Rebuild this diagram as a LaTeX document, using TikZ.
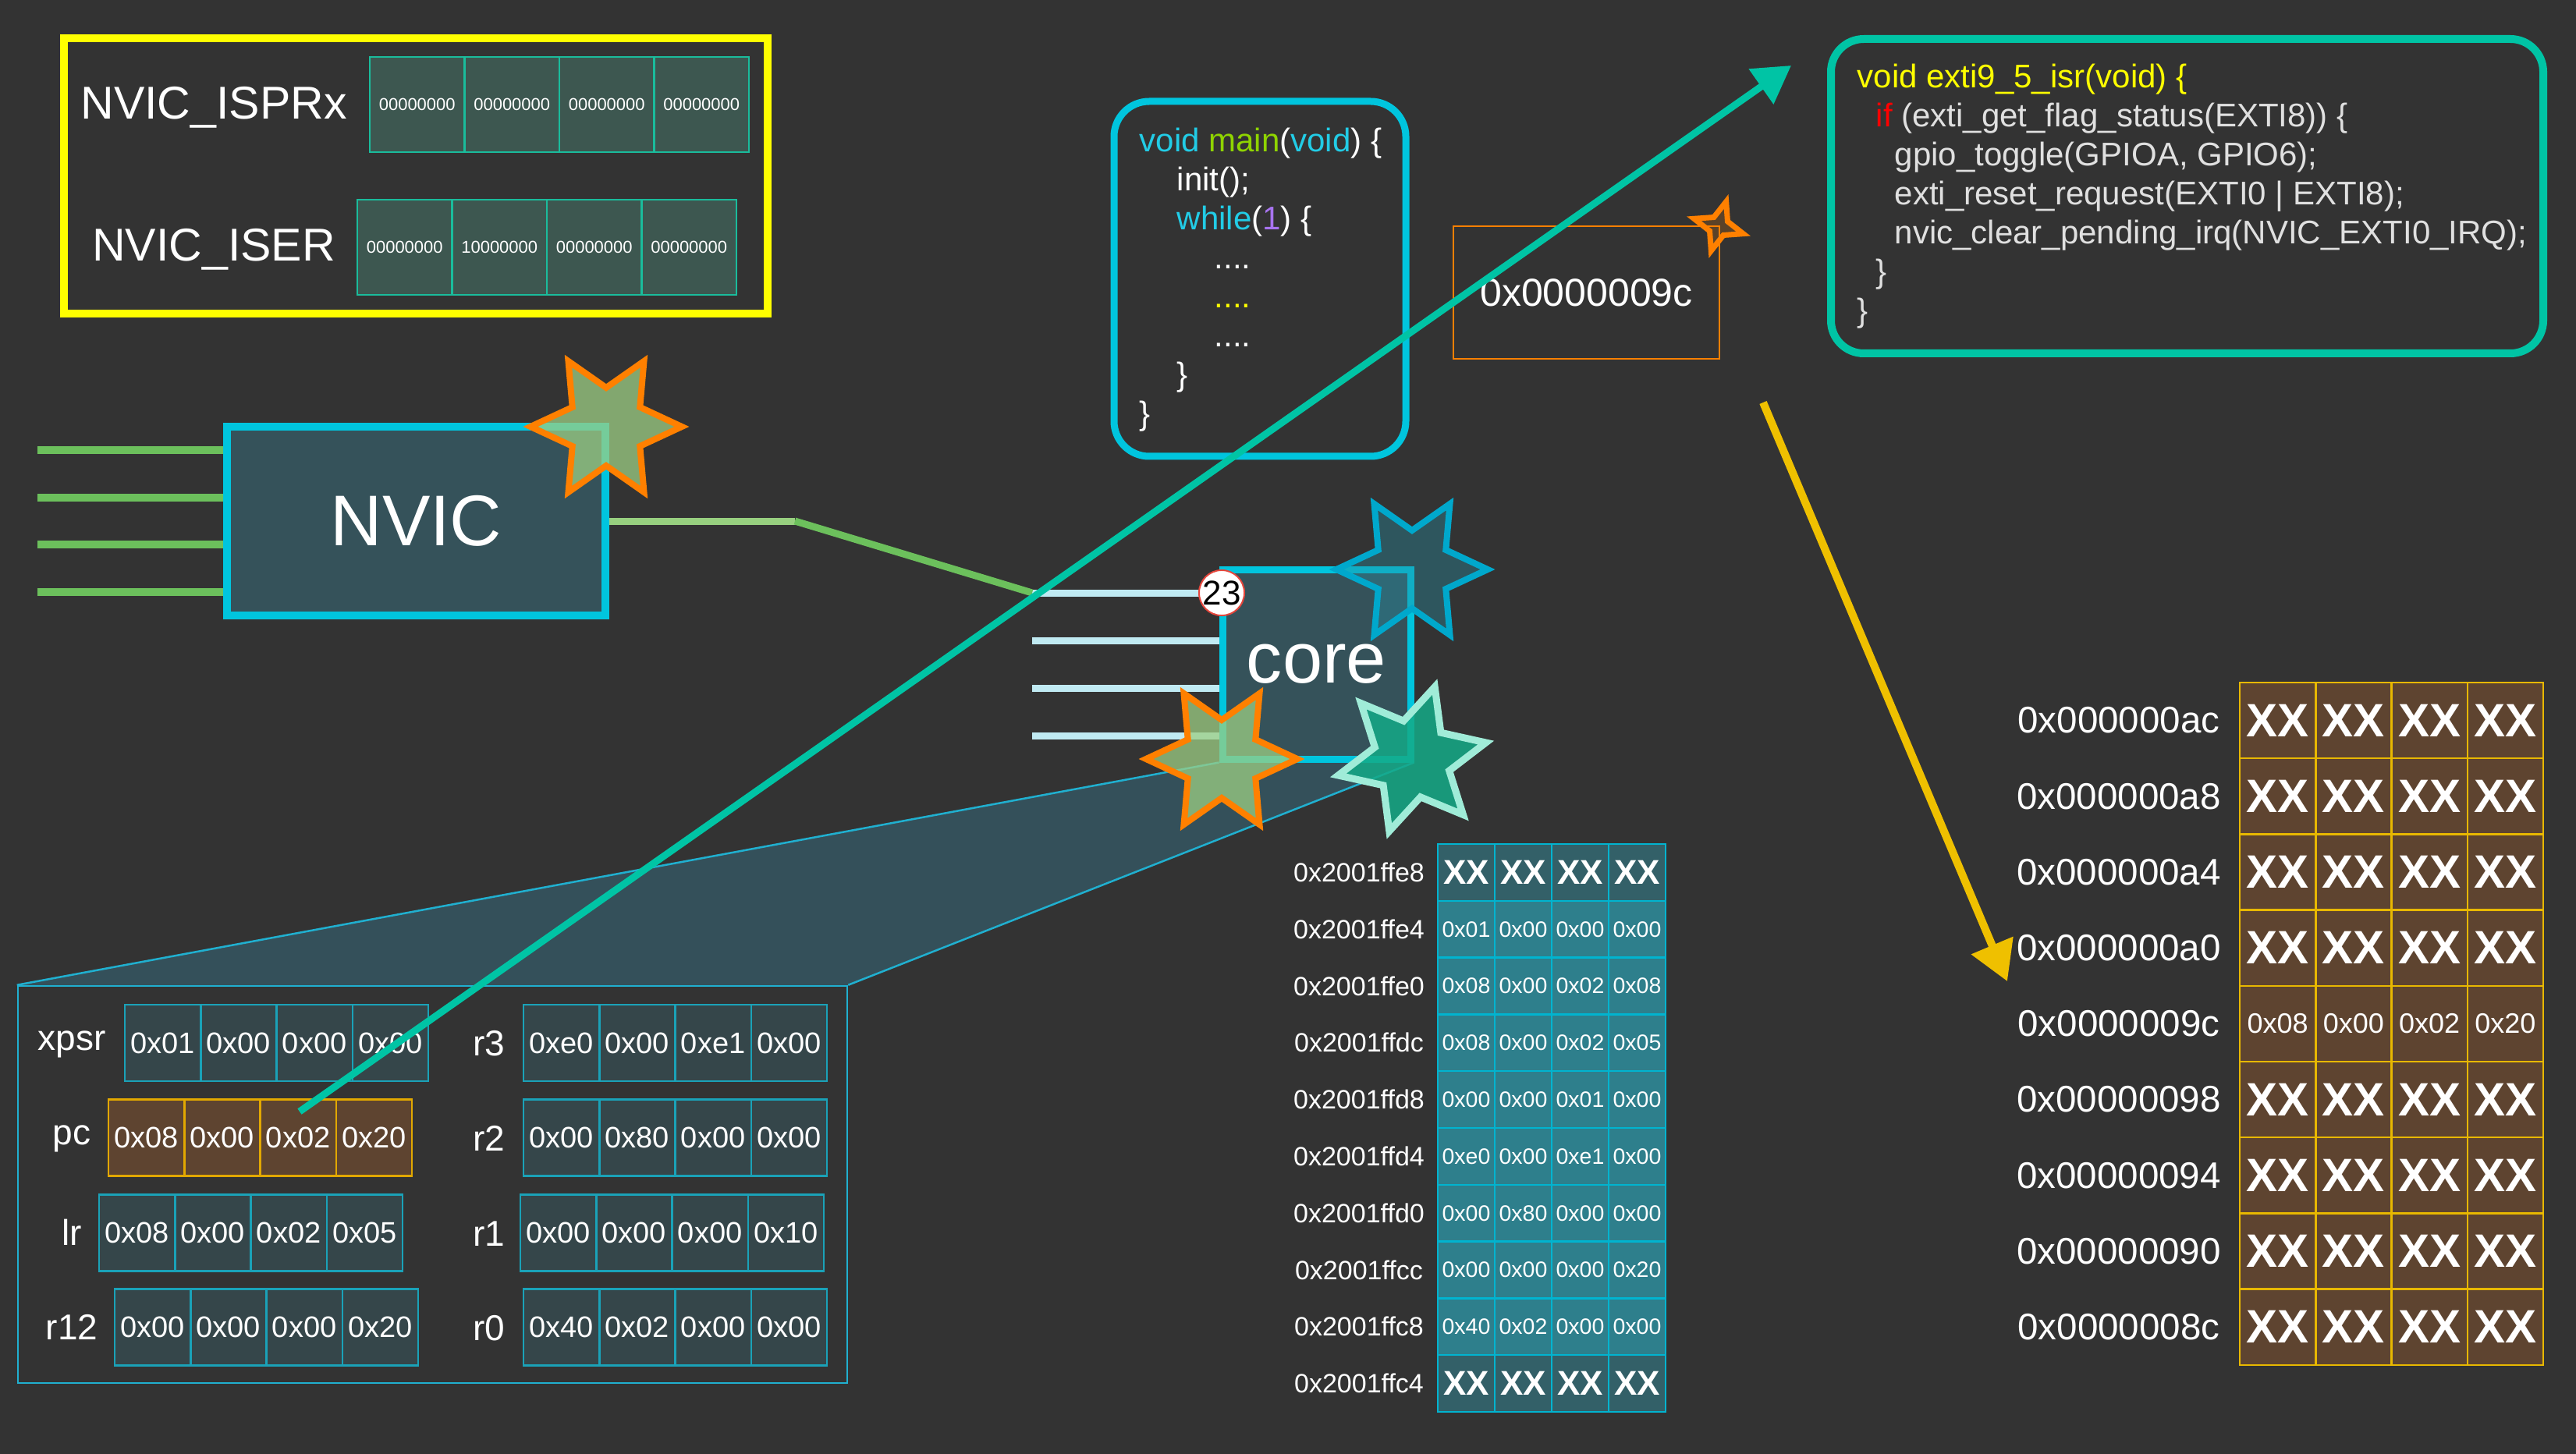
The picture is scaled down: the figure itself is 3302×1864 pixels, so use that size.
\documentclass[tikz,border=0pt]{standalone}
\usepackage{fontspec}
\setmainfont{Liberation Sans}
\usetikzlibrary{arrows.meta}
\newlength\pxu
\setlength\pxu{0.01cm}
\newcommand\fsz[1]{\fontsize{\fpeval{#1*0.28453}pt}{\fpeval{#1*0.34}pt}\selectfont}
\definecolor{bg}{HTML}{333333}
\definecolor{ylw}{HTML}{FFFF00}
\definecolor{isprfill}{HTML}{3D5750}
\definecolor{isprline}{HTML}{1ABC9C}
\definecolor{boxfill}{HTML}{35525A}
\definecolor{cyanline}{HTML}{00C5DE}
\definecolor{grn}{HTML}{6CC05C}
\definecolor{lgrn}{HTML}{98D080}
\definecolor{lblue}{HTML}{C0EAF2}
\definecolor{orng}{HTML}{FF8000}
\definecolor{tealarrow}{HTML}{00C4A5}
\definecolor{goldarrow}{HTML}{EFC000}
\definecolor{regfill}{HTML}{35464A}
\definecolor{regline}{HTML}{1AA2B8}
\definecolor{pcfill}{HTML}{5E4430}
\definecolor{pcline}{HTML}{E2A800}
\definecolor{stkfill}{HTML}{2E7F8C}
\definecolor{stkxx}{HTML}{336068}
\definecolor{stkline}{HTML}{00B4D0}
\definecolor{memline}{HTML}{E8B800}
\definecolor{codecyan}{HTML}{22CCE6}
\definecolor{codegreen}{HTML}{8FD400}
\definecolor{codepurple}{HTML}{A874F0}
\definecolor{codegray}{HTML}{E0E0E0}
\definecolor{bluestar}{HTML}{00A8CC}
\definecolor{mintline}{HTML}{A0ECD8}
\definecolor{trapfill}{HTML}{34505A}
\definecolor{trapline}{HTML}{20B0D0}
\pgfdeclarelayer{backlayer}
\pgfsetlayers{backlayer,main}
\newcommand\sixstar[6]{\draw[#1, shift={(#2,#3)}] (#4:#5) \foreach \k in {0,...,5} { -- ({#4+60*\k+30}:#6) -- ({#4+60*\k+60}:#5) } -- cycle;}
\newcommand\fourstar[6]{\draw[#1, shift={(#2,#3)}] (#4:#5) \foreach \k in {0,...,3} { -- ({#4+90*\k+45}:#6) -- ({#4+90*\k+90}:#5) } -- cycle;}
\newcommand\regrow[5]{\foreach \v [count=\c] in {#4} { \node[#5] (#1-\c) at ({#2+97.25*(\c-0.5)},#3) {\v}; }}
\newcommand\stkrow[4]{%
  \node[stklbl] (sa-#1) at (1742,{1082+72.8*(#1+0.5)}) {#2};
  \foreach \v [count=\c] in {#3} { \node[#4] (s-#1-\c) at ({1843+73*(\c-0.5)},{1082+72.8*(#1+0.5)}) {\v}; }}
\newcommand\memrow[4]{%
  \node[memlbl] (ma-#1) at (2716,{875+97.2*(#1+0.5)}) {#2};
  \foreach \v [count=\c] in {#3} { \node[#4] (m-#1-\c) at ({2871+97.25*(\c-0.5)},{875+97.2*(#1+0.5)}) {\v}; }}
\tikzset{
  isprcell/.style={draw=isprline, fill=isprfill, line width=2.5\pxu, minimum width=121.5\pxu, minimum height=122\pxu, inner sep=0pt, text=white, font=\fsz{22}},
  regc/.style={draw=regline, fill=regfill, line width=2.5\pxu, minimum width=97.25\pxu, minimum height=98\pxu, inner sep=0pt, text=white, font=\fsz{38}},
  pcc/.style={regc, draw=pcline, fill=pcfill},
  reglbl/.style={anchor=base, inner sep=0pt, text=white, font=\fsz{46}},
  stkd/.style={draw=stkline, fill=stkfill, line width=2.5\pxu, minimum width=73\pxu, minimum height=72.8\pxu, inner sep=0pt, text=white, font=\fsz{28.5}},
  stkx/.style={stkd, fill=stkxx, font=\fsz{44}\bfseries},
  stklbl/.style={inner sep=0pt, text=white, font=\fsz{34}},
  memd/.style={draw=memline, fill=pcfill, line width=2.5\pxu, minimum width=97.25\pxu, minimum height=97.2\pxu, inner sep=0pt, text=white, font=\fsz{36}},
  memx/.style={memd, font=\fsz{60}\bfseries},
  memlbl/.style={inner sep=0pt, text=white, font=\fsz{47.5}},
  code/.style={anchor=base west, inner sep=0pt, font=\fsz{42}, text=white},
  isrcode/.style={code, text=codegray},
  orangestar/.style={draw=orng, line width=8\pxu, fill={rgb,255:red,157;green,207;blue,132}, fill opacity=0.75},
  bluestarst/.style={draw=bluestar, line width=8\pxu, fill={rgb,255:red,40;green,140;blue,160}, fill opacity=0.4},
  mintstar/.style={draw=mintline, line width=9\pxu, fill={rgb,255:red,20;green,170;blue,135}, fill opacity=0.85},
  sparkle/.style={draw=orng, line width=7\pxu, fill=orng, fill opacity=0.2},
}
\begin{document}
\begin{tikzpicture}[x=\pxu, y=-\pxu]
\useasboundingbox (0,0) rectangle (3302,1864);
\begin{pgfonlayer}{backlayer}
\fill[bg] (0,0) rectangle (3302,1864);
\end{pgfonlayer}

% ---- NVIC register box
\node[draw=ylw, line width=10\pxu, minimum width=902\pxu, minimum height=353\pxu, inner sep=0pt] (nvicregs) at (533,225.5) {};
\node[anchor=base, inner sep=0pt, text=white, font=\fsz{59}] (isprlbl) at (274,153) {NVIC\_ISPRx};
\node[anchor=base, inner sep=0pt, text=white, font=\fsz{59}] (iserlbl) at (274,335) {NVIC\_ISER};
\foreach \v [count=\i] in {00000000,00000000,00000000,00000000}
  \node[isprcell] (ispr-\i) at ({474+121.5*(\i-0.5)},134) {\v};
\foreach \v [count=\i] in {00000000,10000000,00000000,00000000}
  \node[isprcell] (iser-\i) at ({458+121.5*(\i-0.5)},317) {\v};

% ---- register panel
\node[draw=trapline, line width=2.5\pxu, minimum width=1063\pxu, minimum height=509\pxu, inner sep=0pt] (panel) at (554.5,1518.5) {};
\node[reglbl] (l-xpsr) at (92,1346) {xpsr};
\node[reglbl] (l-pc) at (92,1467) {pc};
\node[reglbl] (l-lr) at (92,1596) {lr};
\node[reglbl] (l-r12) at (92,1717) {r12};
\node[reglbl] (l-r3) at (627,1353) {r3};
\node[reglbl] (l-r2) at (627,1475) {r2};
\node[reglbl] (l-r1) at (627,1597) {r1};
\node[reglbl] (l-r0) at (627,1718) {r0};
\regrow{xpsr}{160}{1337}{0x01,0x00,0x00,0x00}{regc}
\regrow{pc}{139}{1458.5}{0x08,0x00,0x02,0x20}{pcc}
\regrow{lr}{127}{1580.5}{0x08,0x00,0x02,0x05}{regc}
\regrow{r12}{147}{1701.5}{0x00,0x00,0x00,0x20}{regc}
\regrow{r3}{671}{1337}{0xe0,0x00,0xe1,0x00}{regc}
\regrow{r2}{671}{1458.5}{0x00,0x80,0x00,0x00}{regc}
\regrow{r1}{667}{1580.5}{0x00,0x00,0x00,0x10}{regc}
\regrow{r0}{671}{1701.5}{0x40,0x02,0x00,0x00}{regc}

% ---- NVIC
\node[draw=cyanline, fill=boxfill, line width=10\pxu, minimum width=485\pxu, minimum height=242\pxu, inner sep=0pt, font=\fsz{92}, text=white] (nvic) at (533.5,668) {NVIC};
\foreach \y [count=\i] in {577,638,698,759} {
  \coordinate (in\i) at (48,\y);
  \draw[grn, line width=9.5\pxu] (in\i) -- (in\i -| nvic.west);
}
\sixstar{orangestar}{777}{547}{0}{97}{50}

% ---- core
\node[draw=cyanline, fill=boxfill, line width=9\pxu, minimum width=241\pxu, minimum height=243\pxu, inner sep=0pt, font=\fsz{92}, text=white] (core) at (1687.5,851.5) {core};
\begin{pgfonlayer}{backlayer}
\fill[trapfill] (core.south west) -- (core.south east) -- (panel.north east) -- (panel.north west) -- cycle;
\draw[trapline, line width=2.5\pxu] (core.south west) -- (panel.north west);
\draw[trapline, line width=2.5\pxu] (core.south east) -- (panel.north east);
\end{pgfonlayer}
\foreach \y [count=\i] in {760,821,882,943} {
  \coordinate (cin\i) at (1323,\y);
  \draw[lblue, line width=9\pxu] (cin\i) -- (cin\i -| core.west);
}
\coordinate (bend1) at (1019,668);
\draw[lgrn, line width=9\pxu] (nvic.east) -- (bend1);
\draw[grn, line width=9\pxu] (bend1) -- (cin1);
\node[circle, fill=white, draw={rgb,255:red,230;green,70;blue,60}, line width=2\pxu, inner sep=0pt, minimum size=56\pxu, font=\fsz{44}, text=black] (badge) at (1566,760) {23};
\sixstar{bluestarst}{1810}{730}{0}{97}{50}
\sixstar{orangestar}{1566}{973}{0}{97}{50}
\sixstar{mintstar}{1810}{973}{-12.5}{97}{50}

% ---- main code
\node[draw=cyanline, line width=9\pxu, rounded corners=45\pxu, minimum width=374\pxu, minimum height=455\pxu, inner sep=0pt] (mainbox) at (1615,357.5) {};
\node[code] (mc1) at (1460,195) {\textcolor{codecyan}{void} \textcolor{codegreen}{main}(\textcolor{codecyan}{void}) \{};
\node[code] (mc2) at (1508,245) {init();};
\node[code] (mc3) at (1508,295) {\textcolor{codecyan}{while}(\textcolor{codepurple}{1}) \{};
\node[code] (mc4) at (1556,345) {....};
\node[code, text=ylw] (mc5) at (1556,395) {....};
\node[code] (mc6) at (1556,445) {....};
\node[code] (mc7) at (1508,495) {\}};
\node[code] (mc8) at (1460,545) {\}};

% ---- vector box
\node[draw=orng, line width=2.5\pxu, minimum width=341\pxu, minimum height=170\pxu, inner sep=0pt, font=\fsz{50}, text=white] (vecbox) at (2033.5,375) {0x0000009c};
\fourstar{sparkle}{2203}{290}{17}{33}{13}

% ---- ISR code
\node[draw=tealarrow, line width=10\pxu, rounded corners=42\pxu, minimum width=913\pxu, minimum height=403\pxu, inner sep=0pt] (isrbox) at (2803.5,251.5) {};
\node[isrcode, text=ylw] (ic1) at (2380,113) {void exti9\_5\_isr(void) \{};
\node[isrcode] (ic2) at (2404,163) {\textcolor{red}{if} (exti\_get\_flag\_status(EXTI8)) \{};
\node[isrcode] (ic3) at (2428,213) {gpio\_toggle(GPIOA, GPIO6);};
\node[isrcode] (ic4) at (2428,263) {exti\_reset\_request(EXTI0 \textbar{} EXTI8);};
\node[isrcode] (ic5) at (2428,313) {nvic\_clear\_pending\_irq(NVIC\_EXTI0\_IRQ);};
\node[isrcode] (ic6) at (2404,363) {\}};
\node[isrcode] (ic7) at (2380,413) {\}};

% ---- stack memory
\stkrow{0}{0x2001ffe8}{XX,XX,XX,XX}{stkx}
\stkrow{1}{0x2001ffe4}{0x01,0x00,0x00,0x00}{stkd}
\stkrow{2}{0x2001ffe0}{0x08,0x00,0x02,0x08}{stkd}
\stkrow{3}{0x2001ffdc}{0x08,0x00,0x02,0x05}{stkd}
\stkrow{4}{0x2001ffd8}{0x00,0x00,0x01,0x00}{stkd}
\stkrow{5}{0x2001ffd4}{0xe0,0x00,0xe1,0x00}{stkd}
\stkrow{6}{0x2001ffd0}{0x00,0x80,0x00,0x00}{stkd}
\stkrow{7}{0x2001ffcc}{0x00,0x00,0x00,0x20}{stkd}
\stkrow{8}{0x2001ffc8}{0x40,0x02,0x00,0x00}{stkd}
\stkrow{9}{0x2001ffc4}{XX,XX,XX,XX}{stkx}

% ---- vector table memory
\memrow{0}{0x000000ac}{XX,XX,XX,XX}{memx}
\memrow{1}{0x000000a8}{XX,XX,XX,XX}{memx}
\memrow{2}{0x000000a4}{XX,XX,XX,XX}{memx}
\memrow{3}{0x000000a0}{XX,XX,XX,XX}{memx}
\memrow{4}{0x0000009c}{0x08,0x00,0x02,0x20}{memd}
\memrow{5}{0x00000098}{XX,XX,XX,XX}{memx}
\memrow{6}{0x00000094}{XX,XX,XX,XX}{memx}
\memrow{7}{0x00000090}{XX,XX,XX,XX}{memx}
\memrow{8}{0x0000008c}{XX,XX,XX,XX}{memx}

% ---- arrows
\coordinate (yfrom) at (2260,516);
\coordinate (yto) at (2573,1258);
\draw[goldarrow, line width=10\pxu, -{Triangle[length=14.2pt, width=15.9pt]}] (yfrom) -- (yto);
\coordinate (pcptr) at (384,1425);
\coordinate (isrptr) at (2296,84);
\draw[tealarrow, line width=9\pxu, -{Triangle[length=13.4pt, width=15.1pt]}] (pcptr) -- (isrptr);
\end{tikzpicture}
\end{document}
